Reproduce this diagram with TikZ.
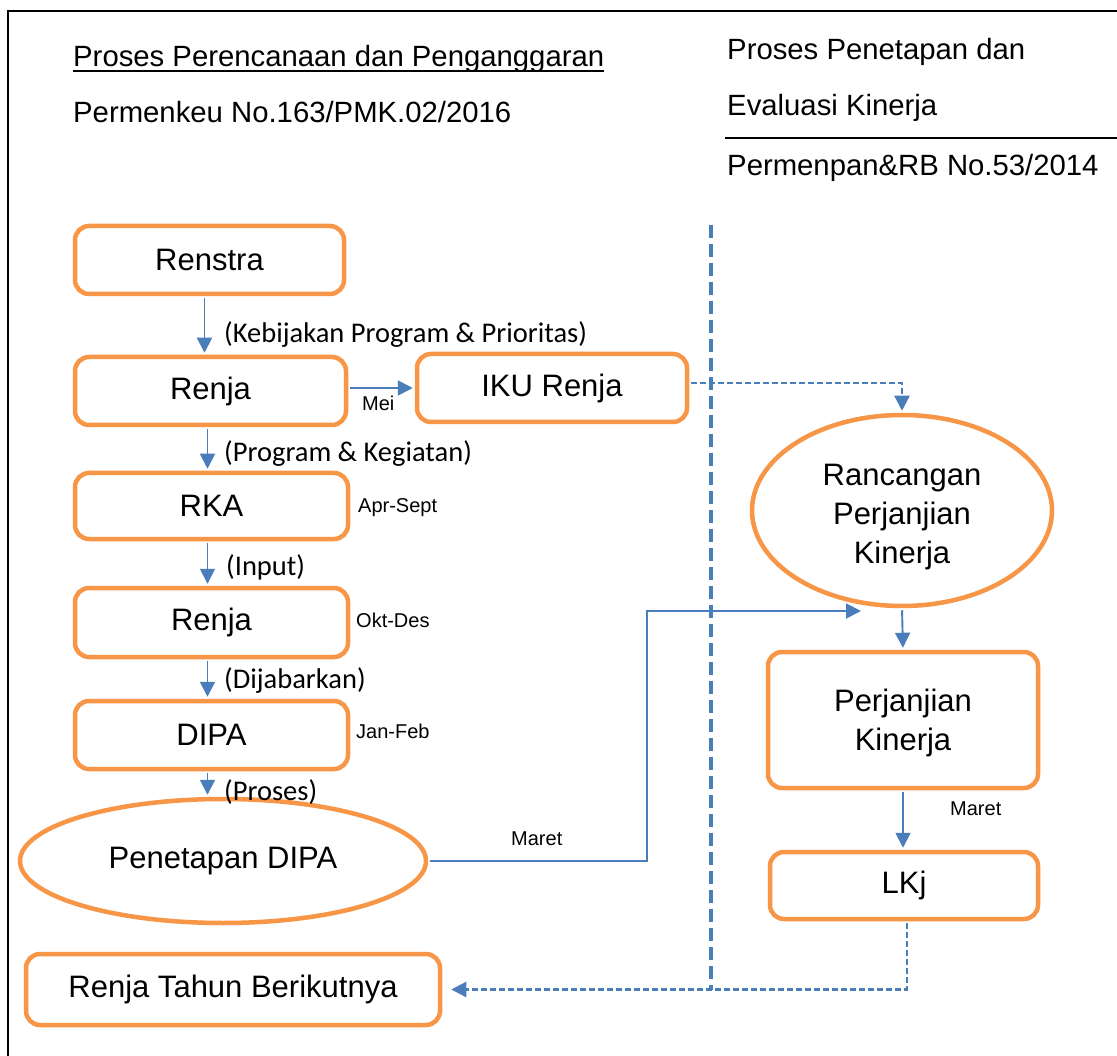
\documentclass[tikz,border=0pt]{standalone}
\usepackage{fontspec}
\setmainfont{Liberation Sans}
\newfontfamily\calfont{Carlito}
\usetikzlibrary{arrows.meta,shapes.geometric,calc}
\definecolor{orng}{HTML}{F79646}
\definecolor{blu}{HTML}{4A7EBB}
\begin{document}
\begin{tikzpicture}[x=1pt,y=-1pt,
  box/.style={draw=orng,line width=4.5pt,rounded corners=14pt,fill=white,inner sep=0pt,font=\fontsize{31}{39}\selectfont,align=center},
  oval/.style={ellipse,draw=orng,line width=4.5pt,fill=white,inner sep=0pt,font=\fontsize{31}{39}\selectfont,align=center},
  arr/.style={draw=blu,line width=1.9pt,-{Triangle[length=15pt,width=15pt]},shorten >=2pt,shorten <=2pt},
  darr/.style={draw=blu,line width=2.4pt,dash pattern=on 6pt off 3pt,-{Triangle[length=15pt,width=15pt]},shorten >=2pt,shorten <=2pt},
  lbl/.style={font=\calfont\fontsize{28.5}{30}\selectfont,anchor=base west,inner sep=0pt},
  sml/.style={font=\fontsize{20}{22}\selectfont,anchor=base west,inner sep=0pt},
  hdr/.style={font=\fontsize{29.3}{32}\selectfont,anchor=base west,inner sep=0pt}]
\useasboundingbox (0,0) rectangle (1117,1056);
\fill[white] (0,0) rectangle (1117,1056);
% frame
\draw[line width=2.5pt] (1117,11) -- (8,11) -- (8,1056);
\draw[line width=2pt] (725,138) -- (1117,138);
% headers
\node[hdr] (h1) at (73,67) {Proses Perencanaan dan Penganggaran};
\draw[line width=2pt] ([yshift=-4.5pt]h1.base west) -- ([yshift=-4.5pt]h1.base east);
\node[hdr] (h2) at (73,123) {Permenkeu No.163/PMK.02/2016};
\node[hdr] (h3) at (727,60) {Proses Penetapan dan};
\node[hdr] (h4) at (727,116) {Evaluasi Kinerja};
\node[hdr] (h5) at (727,176) {Permenpan\&RB No.53/2014};
% separator
\draw[blu,line width=4pt,dash pattern=on 13pt off 6pt] (711,225) -- (711,990);
% left column
\node[box,minimum width=269pt,minimum height=68pt] (renstra) at (209.5,260) {Renstra};
\node[box,minimum width=271pt,minimum height=68pt] (renja) at (210.5,391) {Renja};
\node[box,minimum width=270pt,minimum height=68pt] (iku) at (552,388) {IKU Renja};
\node[box,minimum width=273pt,minimum height=66pt] (rka) at (211.5,506) {RKA};
\node[box,minimum width=273pt,minimum height=69pt] (renja2) at (211.5,622.5) {Renja};
\node[box,minimum width=273pt,minimum height=68pt] (dipa) at (211.5,735) {DIPA};
\node[oval,minimum width=406pt,minimum height=124pt] (pen) at (223,861) {Penetapan DIPA};
\node[box,minimum width=414pt,minimum height=71pt] (rtb) at (233,989.5) {Renja Tahun Berikutnya};
% right column
\node[oval,minimum width=300pt,minimum height=191pt] (ranc) at (902,510.5) {\rule{0pt}{34pt}Rancangan\\Perjanjian\\Kinerja};
\node[box,minimum width=270pt,minimum height=136pt] (perj) at (903,720) {\rule{0pt}{28.5pt}Perjanjian\\Kinerja};
\node[box,minimum width=268pt,minimum height=67pt] (lkj) at (904,885.5) {LKj};
% arrows
\draw[arr] ([xshift=-5pt]renstra.south) -- ([xshift=-6pt]renja.north);
\draw[arr] ([xshift=-3pt]renja.south) -- ([xshift=-4pt]rka.north);
\draw[arr] ([xshift=-4pt]rka.south) -- ([xshift=-4pt]renja2.north);
\draw[arr] ([xshift=-4pt]renja2.south) -- ([xshift=-4pt]dipa.north);
\draw[arr] ([xshift=-4pt]dipa.south) -- ([xshift=-4pt]dipa.south |- pen.north);
\draw[arr] (renja.east |- iku.west) -- (iku.west);
\coordinate (rtip) at (861,611);
\draw[arr,shorten >=0pt] (pen.east) -- ++(219,0) |- (rtip);
\draw[darr] ([yshift=5pt]iku.east) -| (ranc.north);
\draw[arr] (ranc.south) -- (perj.north);
\draw[arr] (perj.south) -- (perj.south |- lkj.north);
\draw[darr,shorten >=9pt] ([xshift=3pt]lkj.south) |- (rtb.east);
% labels
\node[lbl] (l1) at (224,343) {(Kebijakan Program \& Prioritas)};
\node[lbl] (l2) at (224,462) {(Program \& Kegiatan)};
\node[lbl] (l3) at (226,575) {(Input)};
\node[lbl] (l4) at (224,688) {(Dijabarkan)};
\node[lbl] (l5) at (224,800) {(Proses)};
\node[sml] (s1) at (362,411) {Mei};
\node[sml] (s2) at (358,512) {Apr-Sept};
\node[sml] (s3) at (356,627) {Okt-Des};
\node[sml] (s4) at (356,738) {Jan-Feb};
\node[sml] (s5) at (511,845) {Maret};
\node[sml] (s6) at (950,815) {Maret};
\end{tikzpicture}
\end{document}
